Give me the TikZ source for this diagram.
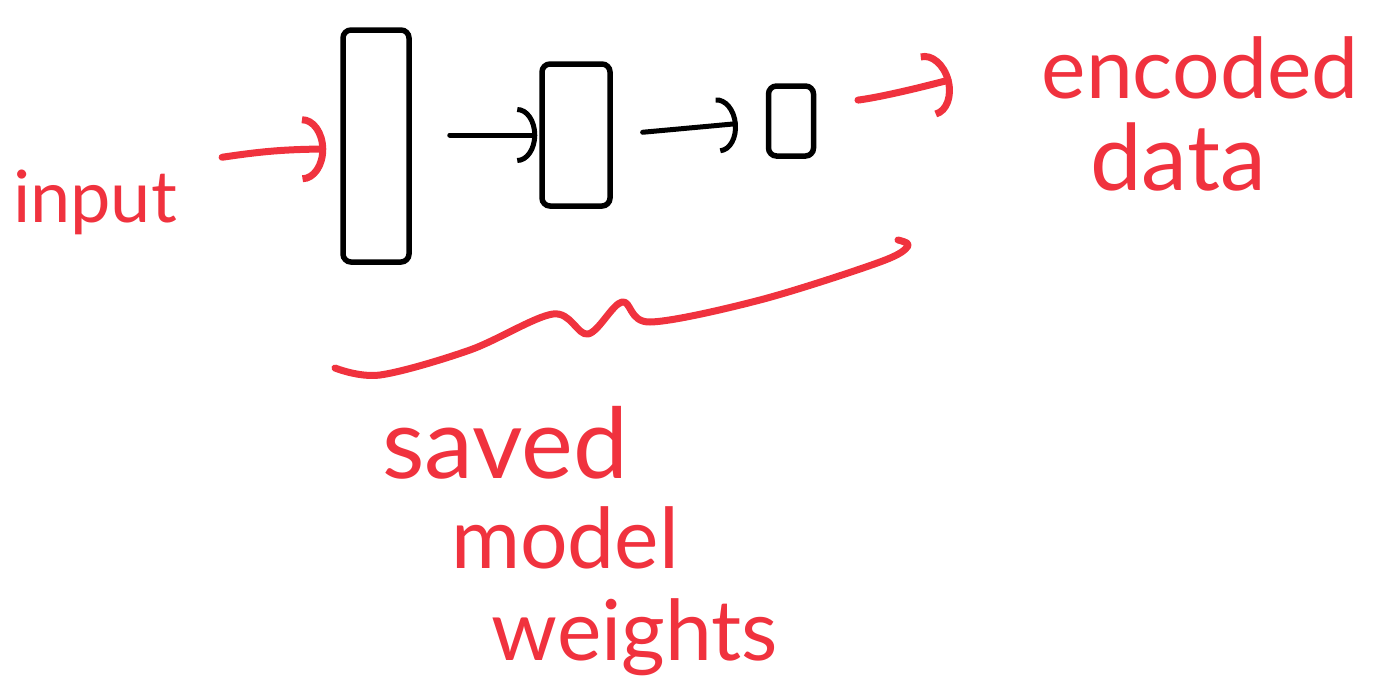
\documentclass[tikz,border=0pt]{standalone}
\usepackage{fontspec}
\setmainfont{Lato}
\usetikzlibrary{arrows.meta,calc}
\definecolor{inkred}{RGB}{240,50,62}
\begin{document}
\begin{tikzpicture}[x=1pt,y=-1pt,
  hand/.style={text=inkred,inner sep=0pt,anchor=base},
  layer/.style={draw=black,line width=5.5pt,rounded corners=8pt,inner sep=0pt},
  blackarrow/.style={draw=black,line width=5pt,line cap=round,-{Arc Barb[length=20pt,width=56pt]}},
  redarrow/.style={draw=inkred,line width=7pt,line cap=round,-{Arc Barb[length=24pt,width=66pt]}},
  brace/.style={draw=inkred,line width=7pt,line cap=round,line join=round}]
\useasboundingbox (0,0) rectangle (1374,681);
% layers
\node[layer,minimum width=66pt,minimum height=232pt] (r1) at (376,146) {};
\node[layer,minimum width=68pt,minimum height=142pt] (r2) at (576,135) {};
\node[layer,minimum width=45pt,minimum height=70pt] (r3) at (791,121) {};
% texts
\node[hand,font=\fontsize{72}{80}\selectfont] (inp) at (95,222) {input};
\node[hand,font=\fontsize{84}{90}\selectfont] (enc) at (1200,98) {encoded};
\node[hand,font=\fontsize{92}{96}\selectfont] (dat) at (1178,190) {data};
\node[hand,font=\fontsize{98}{100}\selectfont] (sav) at (505,478) {saved};
\node[hand,font=\fontsize{84}{90}\selectfont] (mod) at (565,568) {model};
\node[hand,font=\fontsize{84}{90}\selectfont] (wei) at (635,660) {weights};
% connectors
\coordinate (ia) at ($(inp.north east)+(45,-12)$);
\draw[redarrow] (ia) to[bend left=4] ($(r1.west)+(-14,3)$);
\draw[blackarrow,shorten <=38pt,shorten >=2pt] (r1.east |- r2.west) -- (r2.west);
\draw[blackarrow,shorten <=30pt,shorten >=28pt] (r2.east) -- (r3.west);
\coordinate (ea) at ($(enc.west)+(-90,12)$);
\draw[redarrow,shorten <=42pt] (r3.east |- 0,105) to[bend right=4] (ea);
% brace
\draw[brace] plot[smooth,tension=0.55] coordinates {(335,368) (380,375) (470,350) (553,314) (588,334) (622,302) (650,322) (760,300) (880,262) (908,246) (898,240)};
\end{tikzpicture}
\end{document}
